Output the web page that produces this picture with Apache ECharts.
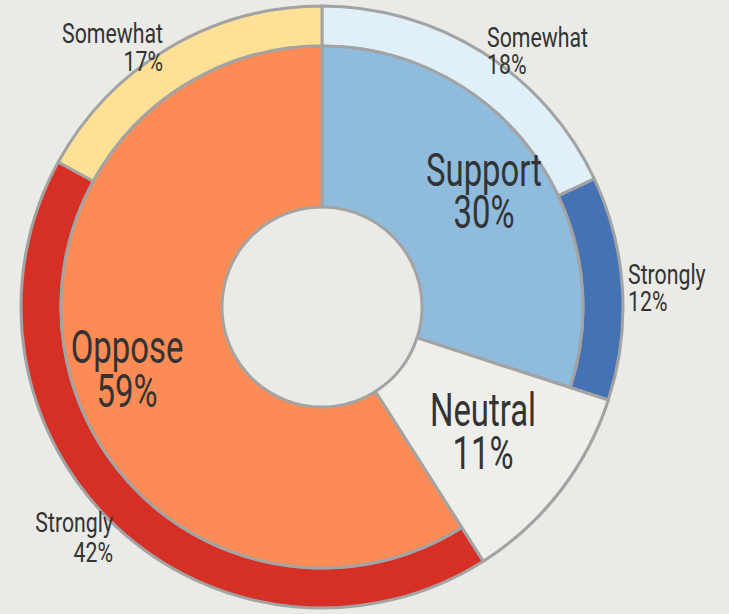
<!DOCTYPE html>
<html>
<head>
<meta charset="utf-8">
<script src="https://cdn.jsdelivr.net/npm/echarts@6/dist/echarts.min.js"></script>
<style>
  html, body { margin: 0; padding: 0; background: #eaeae6; }
  #chart { width: 729px; height: 614px; }
</style>
</head>
<body>
<div id="chart"></div>
<script>
// ---- data ----
const groupNames = ['Support', 'Neutral', 'Oppose'];
const groupValues = [30, 11, 59];
const subNames = ['Somewhat', 'Strongly', 'Neutral', 'Strongly', 'Somewhat'];
const subValues = [18, 12, 11, 42, 17];

// ---- styles ----
const BG = '#eaeae6';
const BORDER = '#a3a3a3';
const groupColors = ['#8fbcdd', '#eeeeeb', '#fc8b56'];
const subColors = ['#dff0f8', '#4472b5', '#eeeeeb', '#d63026', '#fee096'];
const CENTER = [322, 307];
const R_HOLE = 100, R_MID = 261, R_OUT = 301;

const chart = echarts.init(document.getElementById('chart'), null, { renderer: 'svg' });

const baseItem = { borderColor: BORDER, borderWidth: 3 };

const innerData = groupNames.map((n, i) => ({
  name: n, value: groupValues[i],
  itemStyle: Object.assign({ color: groupColors[i] }, baseItem)
}));
const outerData = subNames.map((n, i) => ({
  name: n, value: subValues[i],
  itemStyle: Object.assign({ color: subColors[i] }, baseItem)
}));
// full-height overlay for the neutral slice (spans both rings)
const neutralIdx = groupNames.indexOf('Neutral');
const overlayData = groupNames.map((n, i) => ({
  name: n, value: groupValues[i],
  itemStyle: i === neutralIdx
    ? Object.assign({ color: groupColors[i] }, baseItem)
    : { color: 'rgba(0,0,0,0)', borderWidth: 0 }
}));

const pieCommon = {
  type: 'pie', center: CENTER, startAngle: 90, clockwise: true,
  silent: true, label: { show: false }, labelLine: { show: false },
  emphasis: { disabled: true }, animation: false, avoidLabelOverlap: false
};

const FONT = 'Roboto, sans-serif';
const TXT = '#333333';
function txt(text, x, y, size, lh, align, sx) {
  return {
    type: 'text', x: x, y: y, scaleX: sx, z: 100,
    style: {
      text: text, fontFamily: FONT, fontSize: size, fill: TXT,
      align: align, verticalAlign: 'middle', lineHeight: lh
    }
  };
}
const pct = v => v + '%';

chart.setOption({
  backgroundColor: BG,
  series: [
    Object.assign({}, pieCommon, { name: 'outer', radius: [R_MID, R_OUT], data: outerData, z: 2 }),
    Object.assign({}, pieCommon, { name: 'inner', radius: [R_HOLE, R_MID], data: innerData, z: 2 }),
    Object.assign({}, pieCommon, { name: 'neutral', radius: [R_HOLE, R_OUT], data: overlayData, z: 3 })
  ],
  graphic: [
    txt(groupNames[0] + '\n' + pct(groupValues[0]), 484, 191, 47, 42, 'center', 0.70),
    txt(groupNames[1] + '\n' + pct(groupValues[1]), 483, 431, 47, 43, 'center', 0.70),
    txt(groupNames[2] + '\n' + pct(groupValues[2]), 127, 369, 47, 44, 'center', 0.70),
    txt(subNames[0] + '\n' + pct(subValues[0]), 487, 51, 28, 27, 'left', 0.76),
    txt(subNames[1] + '\n' + pct(subValues[1]), 628, 288, 28, 27, 'left', 0.76),
    txt(subNames[3] + '\n' + pct(subValues[3]), 113, 537, 28, 30, 'right', 0.76),
    txt(subNames[4] + '\n' + pct(subValues[4]), 163, 47, 28, 28, 'right', 0.76)
  ]
});
</script>
</body>
</html>
